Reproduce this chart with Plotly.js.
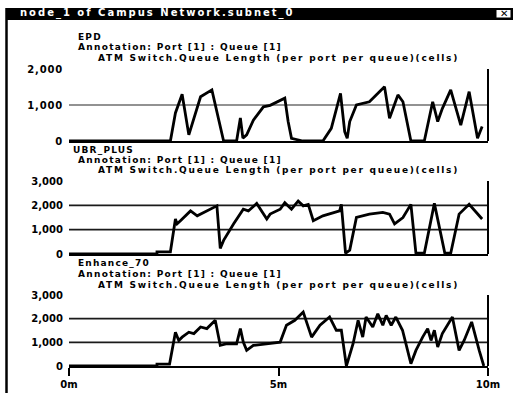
<!DOCTYPE html>
<html>
<head>
<meta charset="utf-8">
<script src="https://cdn.plot.ly/plotly-3.0.1.min.js"></script>
<style>html,body{margin:0;padding:0;background:#fff;}#chart{width:517px;height:393px;}</style>
</head>
<body>
<div id="chart"></div>
<script>
// ---- data (time in minutes, queue length in cells) ----
const windowTitle = 'node_1 of Campus Network.subnet_0';
const seriesNames = ['EPD', 'UBR_PLUS', 'Enhance_70'];
const annotationText = 'Annotation: Port [1] : Queue [1]';
const statText = 'ATM Switch.Queue Length (per port per queue)(cells)';

const xTickVals = [0, 5, 10];
const xTickText = ['0m', '5m', '10m'];

const epdTime = [0, 2.42, 2.54, 2.70, 2.86, 3.14, 3.41, 3.69, 4.00, 4.09, 4.15, 4.24, 4.40, 4.64, 4.80, 5.04, 5.15, 5.23, 5.31, 5.58, 6.06, 6.26, 6.48, 6.58, 6.64, 6.70, 6.86, 7.17, 7.33, 7.53, 7.65, 7.85, 7.97, 8.16, 8.48, 8.68, 8.80, 8.91, 9.11, 9.35, 9.55, 9.75, 9.86];
const epdValue = [0, 0, 780, 1300, 170, 1230, 1420, 0, 0, 640, 80, 170, 580, 950, 990, 1140, 1190, 540, 75, 0, 0, 350, 1320, 260, 75, 540, 1000, 1090, 1280, 1510, 630, 1280, 1090, 0, 0, 1090, 540, 900, 1420, 440, 1370, 75, 400];

const ubrTime = [0, 2.10, 2.10, 2.42, 2.54, 2.58, 2.66, 2.90, 3.06, 3.29, 3.53, 3.61, 3.69, 3.93, 4.16, 4.28, 4.48, 4.72, 4.80, 5.04, 5.15, 5.31, 5.47, 5.59, 5.71, 5.83, 6.06, 6.46, 6.50, 6.60, 6.70, 6.86, 7.17, 7.49, 7.65, 7.77, 7.97, 8.16, 8.28, 8.48, 8.72, 8.97, 9.11, 9.31, 9.55, 9.86];
const ubrValue = [0, 0, 90, 90, 1440, 1240, 1370, 1770, 1570, 1770, 1980, 230, 560, 1240, 1840, 1770, 2080, 1440, 1640, 1840, 2110, 1840, 2180, 1980, 2040, 1370, 1570, 1770, 2040, 30, 160, 1500, 1640, 1710, 1640, 1240, 1500, 2040, 30, 30, 2080, 30, 30, 1640, 2040, 1440];

const enhTime = [0, 2.10, 2.10, 2.40, 2.54, 2.62, 2.70, 2.86, 2.98, 3.14, 3.29, 3.49, 3.61, 3.77, 4.00, 4.09, 4.16, 4.24, 4.40, 4.72, 5.04, 5.19, 5.39, 5.59, 5.79, 5.99, 6.22, 6.38, 6.50, 6.62, 6.78, 6.90, 7.01, 7.09, 7.25, 7.37, 7.49, 7.57, 7.69, 7.80, 7.96, 8.16, 8.28, 8.44, 8.56, 8.64, 8.72, 8.80, 8.91, 9.15, 9.31, 9.43, 9.61, 9.79, 9.90];
const enhValue = [0, 0, 80, 80, 1430, 1080, 1220, 1430, 1370, 1650, 1580, 1930, 870, 940, 940, 1580, 1010, 660, 870, 940, 1010, 1720, 1930, 2280, 1220, 1720, 2070, 1510, 1510, 0, 940, 1930, 1220, 2070, 1650, 2210, 1720, 2140, 1720, 2070, 1510, 100, 660, 1220, 1580, 1080, 1510, 800, 1370, 2070, 660, 1080, 1860, 660, 0];

const yMax = [2000, 3000, 3000];
const yTickVals = [[0, 1000, 2000], [0, 1000, 2000, 3000], [0, 1000, 2000, 3000]];
const yTickText = [['0', '1,000', '2,000'], ['0', '1,000', '2,000', '3,000'], ['0', '1,000', '2,000', '3,000']];
const gridVals = [[1000], [1000, 2000], [1000, 2000]];

// ---- layout geometry (pixels) ----
const W = 517, H = 393;
const px = x => x / W;
const py = y => 1 - y / H;
const plotLeft = 69, plotRight = 488;
const panelPix = [[69, 141], [181, 254], [295, 366]];
const titleY = [36.5, 150, 263], titleX = [77, 72, 77];
const annY = [47, 160, 274];
const statY = [57.5, 170, 284.5];
const gridColor = ['#6e6e6e', '#1a1a1a', '#1a1a1a'];

const FONT = 'DejaVu Sans, Arial, sans-serif';
const times = [epdTime, ubrTime, enhTime];
const values = [epdValue, ubrValue, enhValue];

const traces = [];
const layout = {
  width: W, height: H, autosize: false,
  margin: {l: 0, r: 0, t: 0, b: 0, pad: 0},
  paper_bgcolor: '#ffffff', plot_bgcolor: 'rgba(0,0,0,0)',
  showlegend: false,
  font: {family: FONT, size: 11, color: '#000'},
  shapes: [], annotations: []
};
const spacing = []; // letter-spacing per annotation index

for (let i = 0; i < 3; i++) {
  const n = i === 0 ? '' : String(i + 1);
  const xa = 'x' + n, ya = 'y' + n;
  traces.push({
    x: times[i], y: values[i], type: 'scatter', mode: 'lines',
    xaxis: xa, yaxis: ya,
    line: {color: '#000', width: 2.8}, hoverinfo: 'skip'
  });
  const isBottom = i === 2;
  layout['xaxis' + n] = {
    domain: [px(plotLeft), px(plotRight)], anchor: ya,
    range: [0, 10], fixedrange: true,
    showgrid: false, zeroline: false,
    showline: true, linecolor: '#000', linewidth: 2,
    tickvals: isBottom ? xTickVals : [],
    ticktext: isBottom ? xTickText : [],
    showticklabels: isBottom,
    ticks: isBottom ? 'outside' : '', ticklen: 8, tickwidth: 2, tickcolor: '#000',
    tickfont: {family: FONT, size: 10, color: '#000', weight: 'bold'}
  };
  layout['yaxis' + n] = {
    domain: [py(panelPix[i][1]), py(panelPix[i][0])], anchor: xa,
    range: [0, yMax[i]], fixedrange: true,
    showgrid: false, zeroline: false, showline: false,
    tickvals: yTickVals[i], ticktext: yTickText[i],
    ticks: '', ticklabelstandoff: 5,
    tickfont: {family: FONT, size: 10, color: '#000', weight: 'bold'}
  };
  gridVals[i].forEach(g => {
    layout.shapes.push({type: 'line', xref: xa, yref: ya, x0: 0, x1: 10, y0: g, y1: g,
      line: {color: gridColor[i], width: 1.6}, layer: 'below'});
  });
  // right border of panel
  layout.shapes.push({type: 'line', xref: xa + ' domain', yref: ya + ' domain', x0: 1, x1: 1, y0: 0, y1: 1,
    line: {color: '#000', width: 2}});
  const ann = (text, x, y, ls) => {
    layout.annotations.push({
      text: text, xref: 'paper', yref: 'paper', x: px(x), y: py(y),
      xanchor: 'left', yanchor: 'middle', showarrow: false, borderpad: 0,
      font: {family: FONT, size: 9, color: '#000', weight: 'bold'}
    });
    spacing.push(ls);
  };
  ann(seriesNames[i], titleX[i], titleY[i], 1.2);
  ann(annotationText, 77, annY[i], 1.3);
  ann(statText, 97, statY[i], 1.75);
}

// window frame: title bar, close box, left border
layout.shapes.push({type: 'rect', xref: 'paper', yref: 'paper', x0: px(6), x1: px(513), y0: py(20), y1: py(8),
  fillcolor: '#000', line: {width: 0}});
layout.shapes.push({type: 'rect', xref: 'paper', yref: 'paper', x0: px(496), x1: px(511), y0: py(18), y1: py(9.5),
  fillcolor: '#fff', line: {color: '#000', width: 1}});
layout.shapes.push({type: 'line', xref: 'paper', yref: 'paper', x0: px(6.5), x1: px(6.5), y0: 0, y1: py(8),
  line: {color: '#000', width: 2.5}});
layout.annotations.push({
  text: windowTitle, xref: 'paper', yref: 'paper', x: px(19), y: py(13),
  xanchor: 'left', yanchor: 'middle', showarrow: false, borderpad: 0,
  font: {family: FONT, size: 10, color: '#fff', weight: 'bold'}
});
spacing.push(2.0);
layout.annotations.push({
  text: '✕', xref: 'paper', yref: 'paper', x: px(503.5), y: py(13.8),
  xanchor: 'center', yanchor: 'middle', showarrow: false, borderpad: 0,
  font: {family: FONT, size: 10, color: '#000', weight: 'bold'}
});
spacing.push(0);

Plotly.newPlot('chart', traces, layout, {staticPlot: true, displayModeBar: false}).then(gd => {
  gd.querySelectorAll('g.annotation').forEach(g => {
    const idx = +g.getAttribute('data-index');
    const t = g.querySelector('text');
    if (!t || !spacing[idx]) return;
    const b0 = t.getBBox();
    t.style.letterSpacing = spacing[idx] + 'px';
    const b1 = t.getBBox();
    const dx = b0.x - b1.x;
    const curX = parseFloat(t.getAttribute('x')) || 0;
    t.setAttribute('x', curX + dx);
    t.querySelectorAll('tspan[x]').forEach(s => {
      s.setAttribute('x', (parseFloat(s.getAttribute('x')) || 0) + dx);
    });
  });
  gd.querySelectorAll('.xtick text, .ytick text').forEach(t => { t.style.letterSpacing = '0.8px'; });
});
</script>
</body>
</html>
